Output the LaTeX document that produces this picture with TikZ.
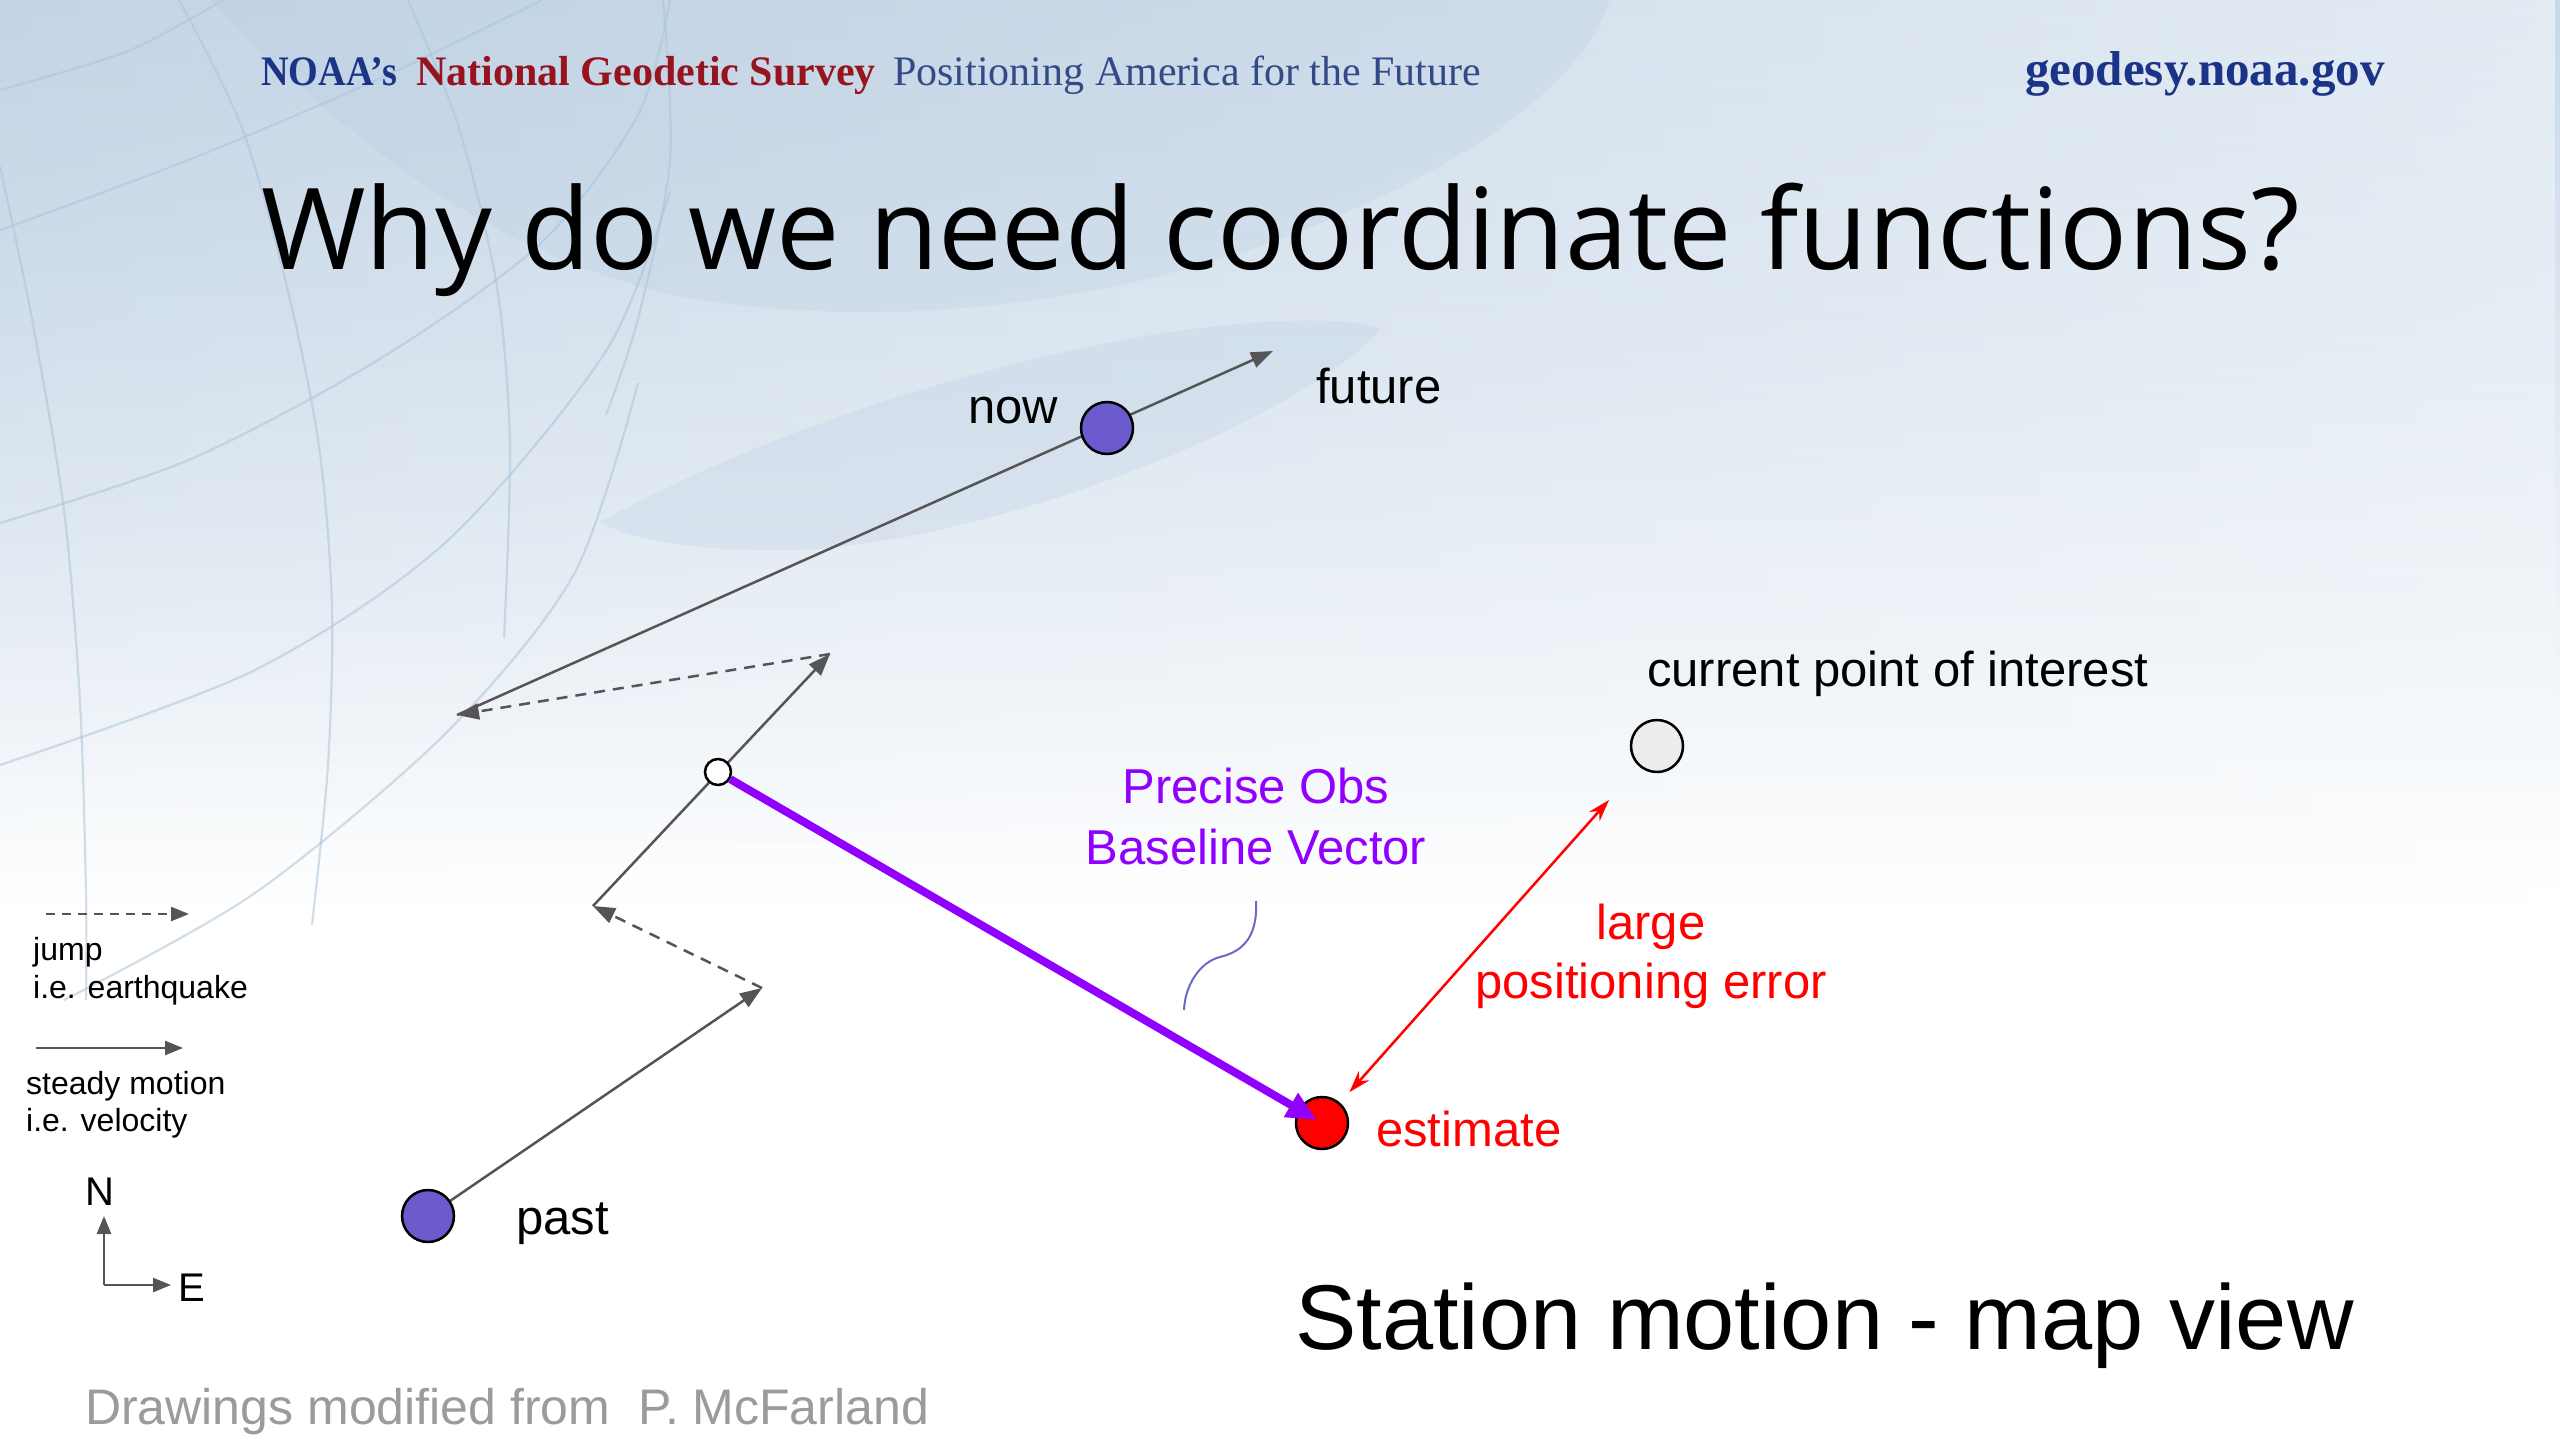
\documentclass[tikz,border=0pt]{standalone}
\usepackage{fontspec}
\setmainfont{Liberation Sans}
\newfontfamily\titlefont{Open Sans}
\newfontfamily\hdrfont{Liberation Serif}
\usetikzlibrary{arrows.meta,fadings}
\pgfdeclarelayer{bg}
\pgfdeclarelayer{lines}
\pgfsetlayers{bg,lines,main}
\definecolor{bgtop}{RGB}{200,216,232}
\definecolor{bgleft}{RGB}{190,208,226}
\definecolor{globe}{RGB}{170,196,218}
\definecolor{swoosh}{RGB}{175,198,222}
\definecolor{noaablue}{RGB}{28,52,135}
\definecolor{noaared}{RGB}{150,20,30}
\definecolor{tagblue}{RGB}{50,75,135}
\definecolor{stationfill}{RGB}{106,90,205}
\definecolor{motion}{RGB}{85,85,85}
\definecolor{obsviolet}{RGB}{145,0,255}
\definecolor{bracecol}{RGB}{105,105,200}
\definecolor{creditgray}{RGB}{155,155,155}
\definecolor{poifill}{RGB}{236,236,236}
\begin{document}
\begin{tikzpicture}[x=1pt,y=-1pt,
  station/.style={circle,draw=black,line width=2.5pt,minimum size=52pt,inner sep=0pt},
  lbl/.style={font=\fontsize{49}{58}\selectfont,inner sep=0pt},
  small/.style={font=\fontsize{32}{38}\selectfont,inner sep=0pt},
  steady/.style={draw=motion,line width=2.5pt,-{Triangle[length=22pt,width=16pt]}},
  jumpline/.style={draw=motion,line width=2.5pt,dash pattern=on 11pt off 8pt,-{Triangle[length=22pt,width=16pt]}},
  legsteady/.style={draw=motion,line width=2.5pt,-{Triangle[length=18pt,width=14pt]}},
  legjump/.style={draw=motion,line width=2.5pt,dash pattern=on 9pt off 7pt,-{Triangle[length=18pt,width=14pt]}},
  globeline/.style={draw=globe,line width=2.2pt,opacity=0.55}
]
\useasboundingbox (0,0) rectangle (2560,1440);

% ---------- background ----------
\begin{pgfonlayer}{bg}
  \fill[white] (0,0) rectangle (2560,1440);
  \shade[top color=bgtop,bottom color=white] (0,0) rectangle (2560,900);
  \shade[left color=bgleft,right color=white,opacity=0.5,path fading=south] (0,0) rectangle (2560,900);
  % swoosh
  \fill[swoosh,opacity=0.2] (210,0) .. controls (330,120) and (480,260) .. (700,300)
     .. controls (900,330) and (1100,300) .. (1250,250)
     .. controls (1450,180) and (1580,90) .. (1610,0) -- cycle;
  \fill[swoosh,opacity=0.22] (600,522) .. controls (750,440) and (950,370) .. (1150,335)
     .. controls (1280,315) and (1360,318) .. (1380,330)
     .. controls (1300,420) and (1000,540) .. (800,550)
     .. controls (700,552) and (630,540) .. (600,522) -- cycle;
  % globe lines
  \path[globeline] plot[smooth] coordinates {(0,166) (32,319) (64,510) (80,702) (86,893) (86,1000)};
  \path[globeline] plot[smooth] coordinates {(179,0) (242,128) (287,287) (319,446) (332,606) (328,765) (312,925)};
  \path[globeline] plot[smooth] coordinates {(408,0) (459,128) (497,287) (510,446) (504,638)};
  \path[globeline] plot[smooth] coordinates {(663,0) (670,160) (638,319) (606,415)};
  \path[globeline] plot[smooth] coordinates {(0,90) (128,51) (223,0)};
  \path[globeline] plot[smooth] coordinates {(0,230) (191,159) (383,77) (542,0)};
  \path[globeline] plot[smooth] coordinates {(0,523) (191,459) (383,357) (542,242) (638,115) (670,0)};
  \path[globeline] plot[smooth] coordinates {(0,765) (255,670) (446,542) (606,351) (670,191)};
  \path[globeline] plot[smooth] coordinates {(64,1000) (255,893) (446,733) (574,574) (638,383)};
\end{pgfonlayer}

% ---------- header ----------
\node[anchor=base west,inner sep=0pt,text=noaablue,font=\hdrfont\bfseries\fontsize{42}{50}\selectfont] (hnoaa) at (261,85) {\scalebox{0.91}[1]{NOAA’s}};
\node[anchor=base west,inner sep=0pt,text=noaared,font=\hdrfont\bfseries\fontsize{42}{50}\selectfont] (hngs) at (416,85) {National Geodetic Survey};
\node[anchor=base west,inner sep=0pt,text=tagblue,font=\hdrfont\fontsize{42}{50}\selectfont] (htag) at (893,85) {Positioning America for the Future};
\node[anchor=base west,inner sep=0pt,text=noaablue,font=\hdrfont\bfseries\fontsize{49}{58}\selectfont] (hurl) at (2025,85) {geodesy.noaa.gov};

% ---------- title ----------
\node[anchor=base west,inner sep=0pt,font=\titlefont\fontsize{113}{130}\selectfont] (title) at (261,269) {Why do we need coordinate functions?};

% ---------- stations ----------
\node[station,fill=stationfill] (past) at (428,1216) {};
\node[station,fill=stationfill] (now) at (1107,428) {};
\node[station,fill=red] (est) at (1322,1123) {};
\node[station,fill=poifill] (cpi) at (1657,746) {};
\node[circle,draw=black,line width=2.5pt,fill=white,minimum size=26pt,inner sep=0pt] (obs) at (718,772) {};

\coordinate (p1) at (762,988);
\coordinate (p2) at (593,906);
\coordinate (p3) at (830,654);
\coordinate (p4) at (457,715);
\coordinate (fut) at (1273,351);

\begin{pgfonlayer}{lines}
  \draw[steady] (past) -- (p1);
  \draw[jumpline] (p1) -- (p2);
  \draw[steady] (p2) -- (p3);
  \draw[jumpline] (p3) -- (p4);
  \draw[steady] (p4) -- (fut);
\end{pgfonlayer}

% baseline vector
\draw[obsviolet,line width=8pt,-{Triangle[length=30pt,width=26pt]},shorten >=6pt] (obs) -- (est.center);
% positioning error
\draw[red,line width=2.5pt,{Stealth[length=22pt,width=14pt]}-{Stealth[length=22pt,width=14pt]},shorten <=14pt,shorten >=45pt] (est) -- (cpi);
% brace-like stroke
\coordinate (bt) at (1256,901);
\coordinate (bm) at (1220,957);
\coordinate (bb) at (1184,1010);
\draw[bracecol,line width=2pt] (bt) .. controls (1258,940) and (1240,952) .. (bm) .. controls (1200,962) and (1185,985) .. (bb);

% ---------- labels ----------
\node[lbl,anchor=base west] (lnow) at (968,423) {now};
\node[lbl,anchor=base west] (lfut) at (1316,403) {future};
\node[lbl,anchor=base west] (lpast) at (516,1234) {past};
\node[lbl,anchor=base west] (lcpi) at (1647,686) {current point of interest};
\node[lbl,anchor=base,text=obsviolet] (lobs1) at (1256,803) {Precise Obs};
\node[lbl,anchor=base,text=obsviolet] (lobs2) at (1256,864) {Baseline Vector};
\node[lbl,anchor=base,text=red] (lerr1) at (1651,939) {large};
\node[lbl,anchor=base,text=red] (lerr2) at (1651,998) {positioning error};
\node[lbl,anchor=base west,text=red] (lest) at (1376,1146) {estimate};

\node[anchor=base west,inner sep=0pt,font=\fontsize{92}{110}\selectfont] (station) at (1295,1349) {Station motion - map view};
\node[anchor=base west,inner sep=0pt,text=creditgray,font=\fontsize{50}{60}\selectfont] (credit) at (85,1424) {Drawings modified from\ \ P. McFarland};

% ---------- legend ----------
\coordinate (lj1) at (46,914);
\coordinate (lj2) at (189,914);
\draw[legjump] (lj1) -- (lj2);
\node[small,anchor=base west] (ljump1) at (33,960) {jump};
\node[small,anchor=base west] (ljump2) at (33,998) {i.e. earthquake};
\coordinate (ls1) at (36,1048);
\coordinate (ls2) at (183,1048);
\draw[legsteady] (ls1) -- (ls2);
\node[small,anchor=base west] (lst1) at (26,1094) {steady motion};
\node[small,anchor=base west] (lst2) at (26,1131) {i.e. velocity};

\coordinate (ax0) at (104,1285);
\coordinate (axN) at (104,1216);
\coordinate (axE) at (171,1285);
\draw[legsteady] (ax0) -- (axN);
\draw[legsteady] (ax0) -- (axE);
\node[anchor=base west,inner sep=0pt,font=\fontsize{40}{48}\selectfont] (lN) at (85,1205) {N};
\node[anchor=base west,inner sep=0pt,font=\fontsize{40}{48}\selectfont] (lE) at (178,1301) {E};
\end{tikzpicture}
\end{document}
